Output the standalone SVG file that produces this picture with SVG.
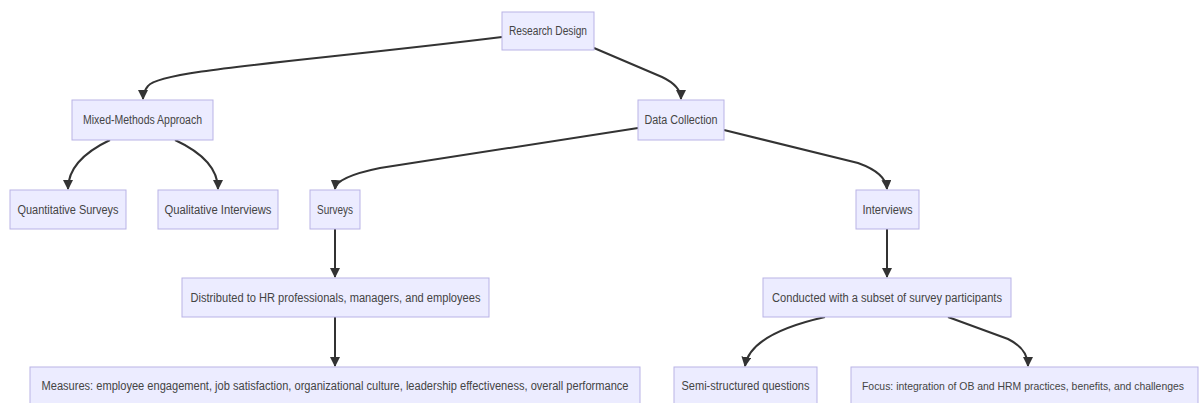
<svg xmlns="http://www.w3.org/2000/svg" width="1200" height="403" viewBox="0 0 1200 403">
<style>
.n rect{fill:#ECECFF;stroke:#b9b3e6;stroke-width:1}
.n text{font-family:"Liberation Sans",Arial,sans-serif;font-size:12px;fill:#444;text-anchor:middle;dominant-baseline:central}
.n text.s{font-size:10.5px}
.e path{fill:none;stroke:#333;stroke-width:2}
</style>
<defs>
<marker id="ah" viewBox="0 0 10 10" refX="9" refY="5" markerWidth="5" markerHeight="5" orient="auto-start-reverse">
<path d="M0,0 L10,5 L0,10 z" fill="#333"/>
</marker>
</defs>
<rect width="1200" height="403" fill="#fff"/>
<g class="e">
<path d="M502,37 C300,62 160,70 148,86 Q143,92 143,99" marker-end="url(#ah)"/>
<path d="M594,48 L662,77 Q681,86 681,99" marker-end="url(#ah)"/>
<path d="M110,140 Q68,160 68,189" marker-end="url(#ah)"/>
<path d="M175,140 Q218,160 218,189" marker-end="url(#ah)"/>
<path d="M638,128 L380,168 Q336,177 335,189" marker-end="url(#ah)"/>
<path d="M724,130 L858,163 Q886,173 887,189" marker-end="url(#ah)"/>
<path d="M335,229 L335,277" marker-end="url(#ah)"/>
<path d="M335,317 L335,366" marker-end="url(#ah)"/>
<path d="M887,229 L887,277" marker-end="url(#ah)"/>
<path d="M825,317 Q750,334 745,366" marker-end="url(#ah)"/>
<path d="M948,317 L1008,339 Q1028,349 1028,366" marker-end="url(#ah)"/>
</g>
<g id="research-design" class="n"><rect x="502" y="12" width="92" height="38"/><text x="548" y="31" textLength="78" lengthAdjust="spacingAndGlyphs">Research Design</text></g>
<g id="mixed-methods" class="n"><rect x="72" y="100" width="141" height="40"/><text x="142.5" y="120" textLength="119" lengthAdjust="spacingAndGlyphs">Mixed-Methods Approach</text></g>
<g id="data-collection" class="n"><rect x="638" y="100" width="86" height="40"/><text x="681" y="120" textLength="73" lengthAdjust="spacingAndGlyphs">Data Collection</text></g>
<g id="quant-surveys" class="n"><rect x="10" y="190" width="116" height="39"/><text x="68" y="209.5" textLength="101" lengthAdjust="spacingAndGlyphs">Quantitative Surveys</text></g>
<g id="qual-interviews" class="n"><rect x="158" y="190" width="120" height="39"/><text x="218" y="209.5" textLength="107" lengthAdjust="spacingAndGlyphs">Qualitative Interviews</text></g>
<g id="surveys" class="n"><rect x="310" y="190" width="50" height="39"/><text x="335" y="209.5" textLength="36" lengthAdjust="spacingAndGlyphs">Surveys</text></g>
<g id="interviews" class="n"><rect x="856" y="190" width="63" height="39"/><text x="887.5" y="209.5" textLength="50" lengthAdjust="spacingAndGlyphs">Interviews</text></g>
<g id="distributed" class="n"><rect x="182" y="278" width="307" height="39"/><text x="335.5" y="297.5" textLength="290" lengthAdjust="spacingAndGlyphs">Distributed to HR professionals, managers, and employees</text></g>
<g id="conducted" class="n"><rect x="763" y="278" width="248" height="39"/><text x="887" y="297.5" textLength="230" lengthAdjust="spacingAndGlyphs">Conducted with a subset of survey participants</text></g>
<g id="measures" class="n"><rect x="30" y="367" width="610" height="39"/><text x="335" y="386" textLength="587" lengthAdjust="spacingAndGlyphs">Measures: employee engagement, job satisfaction, organizational culture, leadership effectiveness, overall performance</text></g>
<g id="semi-structured" class="n"><rect x="674" y="367" width="143" height="39"/><text x="745.5" y="386" textLength="128" lengthAdjust="spacingAndGlyphs">Semi-structured questions</text></g>
<g id="focus" class="n"><rect x="851" y="367" width="347" height="39"/><text class="s" x="1023" y="386" textLength="322" lengthAdjust="spacingAndGlyphs">Focus: integration of OB and HRM practices, benefits, and challenges</text></g>
</svg>
